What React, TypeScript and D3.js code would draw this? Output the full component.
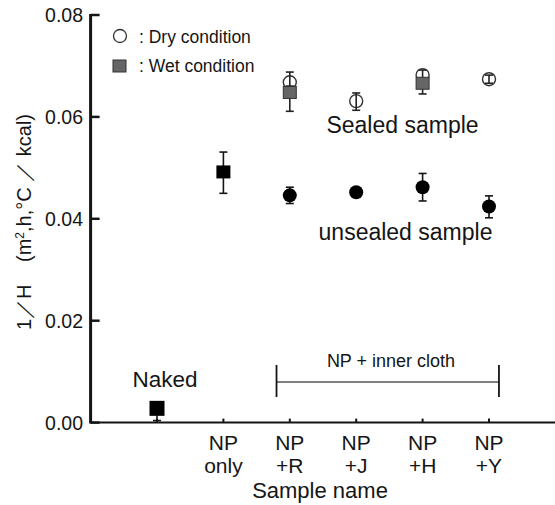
import React from "react";
import * as d3 from "d3";

const categories = ["Naked", "NP only", "NP +R", "NP +J", "NP +H", "NP +Y"];
const tickLine1 = ["", "NP", "NP", "NP", "NP", "NP"];
const tickLine2 = ["", "only", "+R", "+J", "+H", "+Y"];
const yTicks = [0, 0.02, 0.04, 0.06, 0.08];

// black squares (Naked, NP only)
const blackSqIdx = [0, 1];
const blackSqVal = [0.0028, 0.0492];
const blackSqLo = [0.0004, 0.045];
const blackSqHi = [0.0028, 0.0531];

// unsealed sample (filled circles)
const unsealedIdx = [2, 3, 4, 5];
const unsealedVal = [0.0446, 0.0452, 0.0462, 0.0424];
const unsealedLo = [0.043, 0.0449, 0.0435, 0.0402];
const unsealedHi = [0.0462, 0.0455, 0.0489, 0.0445];

// sealed sample, dry condition (open circles)
const dryIdx = [2, 3, 4, 5];
const dryVal = [0.0668, 0.0631, 0.0682, 0.0674];
const dryLo = [0.066, 0.0613, 0.0675, 0.0666];
const dryHi = [0.0688, 0.0647, 0.0692, 0.0682];

// sealed sample, wet condition (grey squares)
const wetIdx = [2, 4];
const wetVal = [0.0648, 0.0666];
const wetLo = [0.0611, 0.0645];
const wetHi = [0.066, 0.0675];

const W = 555;
const H = 505;
const FONT = "'Liberation Sans', Arial, Helvetica, sans-serif";
const INK = "#151515";

export default function App() {
  const x = d3.scaleLinear().domain([-1, 6]).range([90.6, 555.4]);
  const y = d3.scaleLinear().domain([0, 0.08]).range([422.6, 15]);

  const errBar = (cx: number, lo: number, hi: number, key: string, color = INK) => (
    <g key={key} stroke={color} strokeWidth={1.6}>
      <line x1={cx} x2={cx} y1={y(lo)} y2={y(hi)} />
      <line x1={cx - 4} x2={cx + 4} y1={y(lo)} y2={y(lo)} />
      <line x1={cx - 4} x2={cx + 4} y1={y(hi)} y2={y(hi)} />
    </g>
  );

  return (
    <svg
      width={W}
      height={H}
      style={{ position: "absolute", left: 0, top: 0, background: "#fff" }}
      fontFamily={FONT}
    >
      <rect width={W} height={H} fill="#fff" />
      {/* axes */}
      <line x1={x(-1)} x2={x(-1)} y1={y(0.08) - 1} y2={y(0) + 1} stroke={INK} strokeWidth={3} />
      <line x1={x(-1)} x2={x(6)} y1={y(0)} y2={y(0)} stroke={INK} strokeWidth={2} />
      {yTicks.map((t) => (
        <g key={"yt" + t}>
          <line x1={x(-1)} x2={x(-1) + 9} y1={y(t)} y2={y(t)} stroke={INK} strokeWidth={2.5} />
          <text x={83} y={y(t) + 7} textAnchor="end" fontSize={19.5} fill={INK}>
            {d3.format(".2f")(t)}
          </text>
        </g>
      ))}
      {categories.map((c, i) => (
        <g key={"xt" + c}>
          <line x1={x(i)} x2={x(i)} y1={y(0)} y2={y(0) - 4} stroke={INK} strokeWidth={2} />
          <text x={x(i)} y={450} textAnchor="middle" fontSize={21} fill={INK}>
            {tickLine1[i]}
          </text>
          <text x={x(i)} y={473} textAnchor="middle" fontSize={21} fill={INK}>
            {tickLine2[i]}
          </text>
        </g>
      ))}
      <text x={320} y={498} textAnchor="middle" fontSize={22} fill={INK}>
        Sample name
      </text>
      {/* y title */}
      <text transform={`translate(31,330) rotate(-90)`} fontSize={20} fill={INK}>
        1／H
        <tspan x={68}>(m</tspan>
        <tspan dy={-7} fontSize={12}>2</tspan>
        <tspan dy={7}>,h,°C ／ kcal)</tspan>
      </text>

      {/* legend */}
      <circle cx={120} cy={36} r={6.5} fill="#fff" stroke="#333" strokeWidth={1.3} />
      <text x={139} y={42.5} fontSize={17.5} fill={INK}>: Dry condition</text>
      <rect x={113} y={60} width={13} height={12} fill="#666" stroke="#333" strokeWidth={1} />
      <text x={139} y={72} fontSize={17.5} fill={INK}>: Wet condition</text>

      {/* black squares */}
      {blackSqIdx.map((ci, k) => (
        <g key={"bs" + k}>
          {errBar(x(ci), blackSqLo[k], blackSqHi[k], "bse" + k)}
          <rect
            x={x(ci) - (k === 0 ? 7.5 : 7)}
            y={y(blackSqVal[k]) - (k === 0 ? 7.5 : 6.5)}
            width={k === 0 ? 15 : 14}
            height={k === 0 ? 15 : 13}
            fill="#000"
          />
        </g>
      ))}

      {/* unsealed */}
      {unsealedIdx.map((ci, k) => (
        <g key={"us" + k}>
          {errBar(x(ci), unsealedLo[k], unsealedHi[k], "use" + k)}
          <circle cx={x(ci)} cy={y(unsealedVal[k])} r={7} fill="#000" />
        </g>
      ))}

      {/* sealed dry */}
      {dryIdx.map((ci, k) => (
        <g key={"dr" + k}>
          <circle cx={x(ci)} cy={y(dryVal[k])} r={6.5} fill="none" stroke="#333" strokeWidth={1.4} />
          {errBar(x(ci), dryLo[k], dryHi[k], "dre" + k, "#222")}
        </g>
      ))}

      {/* sealed wet */}
      {wetIdx.map((ci, k) => (
        <g key={"wt" + k}>
          {errBar(x(ci), wetLo[k], wetHi[k], "wte" + k, "#222")}
          <rect
            x={x(ci) - 6.5}
            y={y(wetVal[k]) - 6}
            width={13}
            height={12}
            fill="#666"
            stroke="#333"
            strokeWidth={1}
          />
        </g>
      ))}

      {/* annotations */}
      <text x={402.5} y={133} textAnchor="middle" fontSize={23} fill={INK}>
        Sealed sample
      </text>
      <text x={405.5} y={240} textAnchor="middle" fontSize={23} fill={INK}>
        unsealed sample
      </text>
      <text x={165} y={387} textAnchor="middle" fontSize={22.5} fill={INK}>
        Naked
      </text>

      {/* NP + inner cloth bracket */}
      <line x1={x(1.8)} x2={x(5.15)} y1={382} y2={382} stroke="#555" strokeWidth={1.5} />
      <line x1={x(1.8)} x2={x(1.8)} y1={365} y2={397} stroke={INK} strokeWidth={1.8} />
      <line x1={x(5.15)} x2={x(5.15)} y1={365} y2={397} stroke={INK} strokeWidth={1.8} />
      <text x={391} y={367} textAnchor="middle" fontSize={18} fill={INK}>
        NP + inner cloth
      </text>
    </svg>
  );
}
